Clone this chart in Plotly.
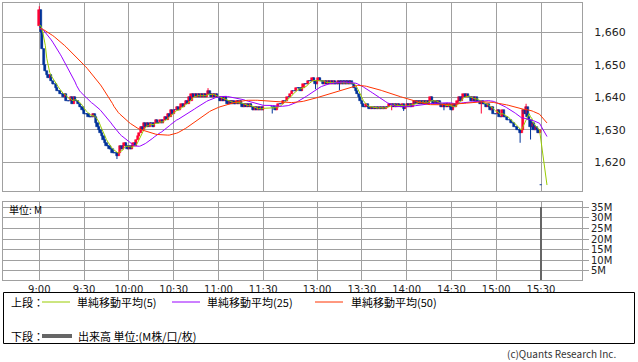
import plotly.graph_objects as go
import pandas as pd

# ---------------- data ----------------
# 1-minute closes, morning session 9:00 .. 11:30 (slot 0..150)
am_close = [
    1667, 1660, 1655, 1650, 1648, 1647, 1646, 1647, 1645, 1644,
    1644, 1643, 1642, 1642, 1641, 1641, 1640, 1641, 1639, 1639,
    1639, 1640, 1638, 1640, 1639, 1639, 1638, 1637, 1637, 1636,
    1635, 1635, 1635, 1634, 1634, 1634, 1635, 1634, 1632, 1631,
    1630, 1629, 1628, 1627, 1626, 1625, 1625, 1624, 1624, 1623,
    1623, 1623, 1622, 1623, 1625, 1624, 1625, 1626, 1625, 1624,
    1625, 1624, 1625, 1626, 1625, 1627, 1628, 1629, 1631, 1630,
    1632, 1631, 1632, 1631, 1632, 1632, 1631, 1632, 1633, 1632,
    1632, 1633, 1632, 1633, 1634, 1633, 1635, 1634, 1636, 1635,
    1636, 1636, 1637, 1636, 1637, 1638, 1637, 1638, 1639, 1638,
    1640, 1639, 1641, 1640, 1641, 1640, 1641, 1640, 1641, 1640,
    1641, 1640, 1641, 1642, 1641, 1640, 1641, 1640, 1641, 1640,
    1640, 1639, 1640, 1639, 1640, 1639, 1638, 1639, 1638, 1639,
    1638, 1638, 1639, 1638, 1639, 1638, 1637, 1638, 1637, 1638,
    1637, 1638, 1637, 1636, 1637, 1636, 1637, 1636, 1637, 1636,
    1637,
]
# 1-minute closes, afternoon session 12:30 .. 15:29 (slot 156..335)
pm_close = [
    1637, 1637, 1636, 1637, 1638, 1638, 1638, 1639, 1639, 1639,
    1640, 1640, 1641, 1642, 1642, 1642, 1643, 1643, 1643, 1642,
    1643, 1644, 1644, 1644, 1645, 1645, 1645, 1646, 1645, 1644,
    1645, 1646, 1645, 1645, 1644, 1645, 1644, 1645, 1644, 1645,
    1644, 1645, 1644, 1644, 1645, 1644, 1645, 1644, 1645, 1644,
    1645, 1644, 1645, 1644, 1644, 1643, 1642, 1641, 1640, 1639,
    1638, 1637, 1637, 1638, 1637, 1636.5, 1637, 1636.5, 1637, 1636.5,
    1637, 1636.5, 1637, 1636.5, 1637, 1636.5, 1637, 1637, 1638, 1637.5,
    1638, 1637, 1638, 1637, 1638, 1637.5, 1637, 1638, 1636.5, 1637,
    1638, 1637, 1638, 1637, 1638, 1639, 1638, 1639, 1638, 1639,
    1638, 1639, 1638, 1639, 1638, 1639, 1640, 1639, 1638, 1639,
    1638, 1639, 1638, 1637, 1638, 1637, 1638, 1637, 1638, 1637,
    1636, 1638, 1637, 1638, 1639, 1640, 1639, 1640, 1641, 1640,
    1641, 1640, 1640, 1639, 1640, 1639, 1640, 1639, 1639, 1638,
    1639, 1638, 1638, 1637, 1638, 1637, 1636, 1637, 1635, 1635,
    1635, 1636, 1634, 1634, 1636, 1634, 1634, 1633, 1633, 1633,
    1632, 1632, 1631, 1631, 1630, 1630, 1629, 1630, 1636, 1635,
    1637, 1634, 1633, 1631, 1632, 1630, 1631, 1630, 1629, 1630,
]
pm_start_slot = 156
first_open = 1662
# closing auction at 15:30 (slot 336); MA lines run on to slot 340 at that price
auction_slot = 336
auction_close = [1613, 1613, 1613, 1613, 1613]
prev_session_close = 1661  # level the MA lines start from at 9:00

# notable wicks
hi_slot = [0, 113, 326]
hi_val = [1668, 1642.8, 1638]
lo_slot = [0, 52, 156, 185, 201, 236, 244, 271, 296, 322, 329]
lo_val = [1662, 1621, 1635, 1642.5, 1642.2, 1636, 1635.8, 1636, 1635, 1626, 1627]

vol_slot = [336]
vol_m = [35.2]

tick_slot = [0, 30, 60, 90, 120, 150, 186, 216, 246, 276, 306, 336]
tick_text = ["9:00", "9:30", "10:00", "10:30", "11:00", "11:30",
             "13:00", "13:30", "14:00", "14:30", "15:00", "15:30"]
price_ticks = [1620, 1630, 1640, 1650, 1660]
vol_ticks = [5, 10, 15, 20, 25, 30, 35]

ma_periods = [5, 25, 50]
ma_names = ["単純移動平均(5)", "単純移動平均(25)", "単純移動平均(50)"]
ma_colors = ["#99cc00", "#9900ff", "#ff3300"]

UP = "#ff0033"
DOWN = "#003399"
GRID = "#a0a0a0"

# ---------------- build candles ----------------
xs = list(range(len(am_close))) + [pm_start_slot + i for i in range(len(pm_close))]
closes = am_close + pm_close
opens = [first_open] + closes[:-1]
xs.append(auction_slot)
closes = closes + [auction_close[0]]
opens = opens + [auction_close[0]]
highs = [max(o, c) for o, c in zip(opens, closes)]
lows = [min(o, c) for o, c in zip(opens, closes)]
pos = {x: i for i, x in enumerate(xs)}
for s, v in zip(hi_slot, hi_val):
    highs[pos[s]] = max(highs[pos[s]], v)
for s, v in zip(lo_slot, lo_val):
    lows[pos[s]] = min(lows[pos[s]], v)

fig = go.Figure()

for up, col in [(True, UP), (False, DOWN)]:
    bx, bb, bh, wx, wy = [], [], [], [], []
    for x, o, h, l, c in zip(xs, opens, highs, lows, closes):
        if (c > o) != up:
            continue
        bx.append(x)
        bb.append(min(o, c))
        bh.append(abs(c - o))
        wx += [x, x, None]
        wy += [l, h, None]
    fig.add_trace(go.Scatter(x=wx, y=wy, mode="lines", line=dict(color=col, width=1),
                             xaxis="x", yaxis="y", showlegend=False, hoverinfo="skip"))
    fig.add_trace(go.Bar(x=bx, y=bh, base=bb, width=1.5, marker=dict(color=col, line=dict(color=col, width=0.6)),
                         xaxis="x", yaxis="y", showlegend=False))

# moving averages
series = [prev_session_close] * 49 + am_close + pm_close + auction_close
ma_x = xs[:-1] + [auction_slot + i for i in range(len(auction_close))]
for p, name, col in zip(ma_periods, ma_names, ma_colors):
    ma = pd.Series(series).rolling(p).mean().iloc[49:].tolist()
    fig.add_trace(go.Scatter(x=ma_x, y=ma, mode="lines", line=dict(color=col, width=1),
                             name=name, xaxis="x", yaxis="y", showlegend=False))

# volume
fig.add_trace(go.Bar(x=vol_slot, y=vol_m, width=1.7, marker=dict(color="#666666", line=dict(width=0)),
                     xaxis="x2", yaxis="y2", showlegend=False))

# ---------------- layout ----------------
W, H = 638, 362
L, R, T, B = 3, 56, 3, 82
pw, ph = W - L - R, H - T - B
slot_px = 1.4932
x9 = 39.3
r0 = -(x9 - L) / slot_px
r1 = r0 + pw / slot_px


def pxx(x):
    return (x - L) / pw


def pyy(y):
    return (H - B - y) / ph


tickfont = dict(family="DejaVu Sans", size=10, color="#222")
common_x = dict(range=[r0, r1], tickvals=tick_slot, showgrid=True, gridcolor=GRID, gridwidth=1,
                showline=True, mirror=True, linecolor=GRID, linewidth=1, zeroline=False, ticks="")

fig.update_layout(
    width=W, height=H, margin=dict(l=L, r=R, t=T, b=B),
    paper_bgcolor="white", plot_bgcolor="white", barmode="overlay", bargap=0,
    xaxis=dict(domain=[0, 1], anchor="y", showticklabels=False, **common_x),
    xaxis2=dict(domain=[0, 1], anchor="y2", ticktext=tick_text, showticklabels=True,
                tickfont=tickfont, **common_x),
    yaxis=dict(domain=[pyy(190.7), 1], range=[1611.26, 1669.0], side="right", anchor="x",
               tickvals=price_ticks, tickformat=",", tickfont=dict(family="DejaVu Sans", size=11, color="#222"),
               showgrid=True, gridcolor=GRID, showline=True, mirror=True, linecolor=GRID,
               zeroline=False, ticks="outside", ticklen=9, tickcolor="rgba(0,0,0,0)"),
    yaxis2=dict(domain=[0, pyy(201.7)], range=[0.75, 37.64], side="right", anchor="x2",
                tickvals=vol_ticks, ticktext=[f"{v}M" for v in vol_ticks], tickfont=tickfont,
                showgrid=True, gridcolor=GRID, showline=True, mirror=True, linecolor=GRID,
                zeroline=False, ticks="outside", ticklen=6, tickcolor=GRID),
    showlegend=False,
)

jp = "Noto Sans CJK JP"
ann = []
shapes = []


def text(x, y, s, size=11, anchor="left", color="#000"):
    ann.append(dict(x=pxx(x), y=pyy(y), xref="paper", yref="paper", text=s, showarrow=False,
                    xanchor=anchor, yanchor="middle", font=dict(family=jp, size=size, color=color)))


def hline(x0, x1, y, col, w):
    shapes.append(dict(type="line", xref="paper", yref="paper", x0=pxx(x0), x1=pxx(x1),
                       y0=pyy(y), y1=pyy(y), line=dict(color=col, width=w)))


text(7, 209, "単位: M", size=10)
shapes.append(dict(type="rect", xref="paper", yref="paper", x0=pxx(3.5), x1=pxx(634.5),
                   y0=pyy(292.5), y1=pyy(343.5), line=dict(color="#000", width=1)))
text(9, 302, "上段：", size=11)
leg_pos = [(42, 70, 75), (172, 200, 205), (315, 343, 349)]
for (a, b, t), name, col in zip(leg_pos, ma_names, ma_colors):
    hline(a, b, 302, col, 1)
    text(t, 302, name, size=11)
text(9, 336, "下段：", size=11)
hline(42, 72, 336, "#666666", 4)
text(76, 336, "出来高 単位:(M株/口/枚)", size=11)
text(618, 353.5, "(c)Quants Research Inc.", size=10, anchor="right", color="#333")

fig.update_layout(annotations=ann, shapes=shapes)
fig.write_html("out.html")
